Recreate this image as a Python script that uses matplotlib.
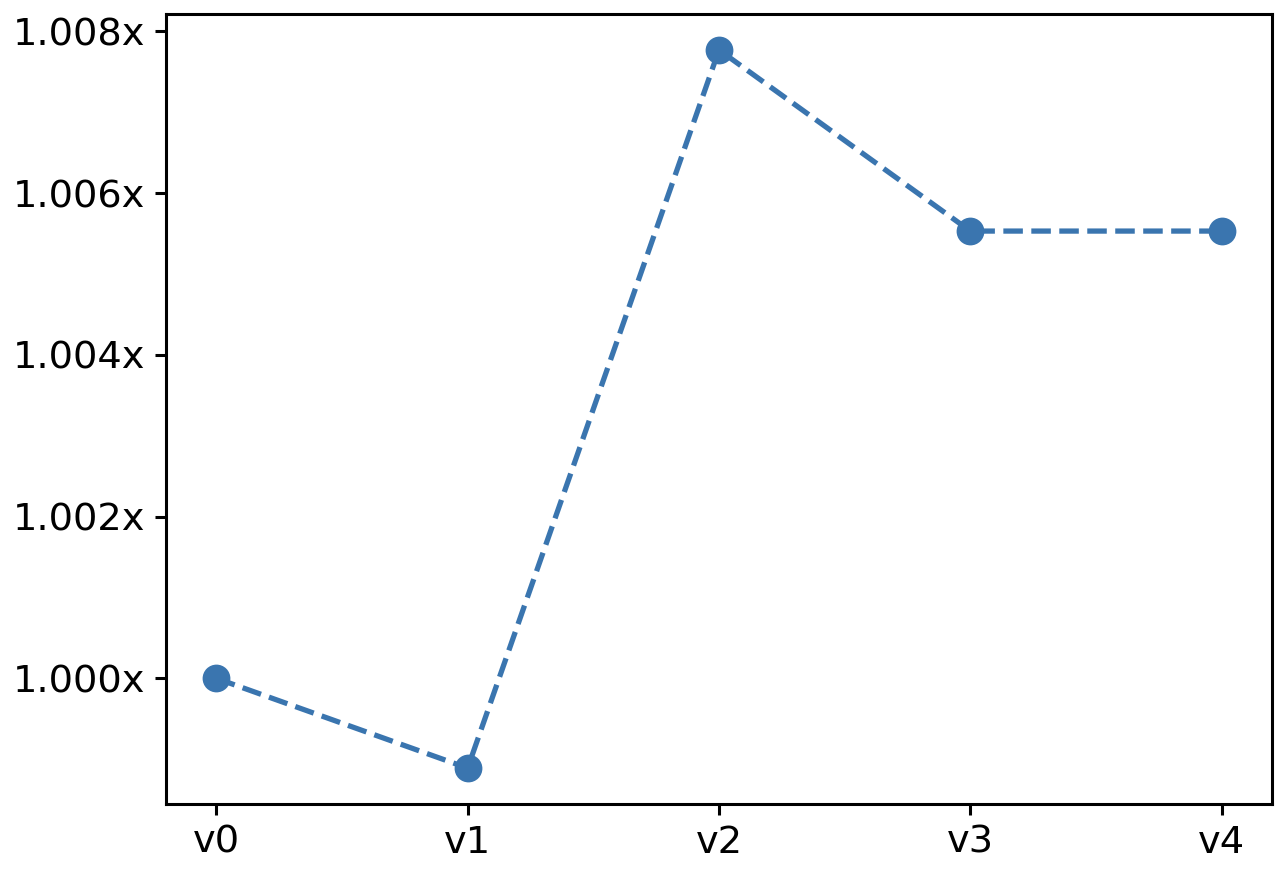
import matplotlib
matplotlib.use("Agg")
import matplotlib.pyplot as plt
from matplotlib.ticker import FuncFormatter, MultipleLocator

versions = ["v0", "v1", "v2", "v3", "v4"]
speedup = [1.0, 0.99889, 1.00777, 1.00553, 1.00553]

plt.rcParams['font.size'] = 13.8

fig = plt.figure(figsize=(6.4, 4.41), dpi=200)
ax = fig.add_axes([166/1280, 1 - 804/882, (1272-166)/1280, (804-14)/882])

ax.plot(range(len(versions)), speedup, linestyle='--', marker='o', color='#3a75af',
        linewidth=1.9, markersize=9)
ax.set_xticks(range(len(versions)))
ax.set_xticklabels(versions)
ax.yaxis.set_major_locator(MultipleLocator(0.002))
ax.yaxis.set_major_formatter(FuncFormatter(lambda v, p: "{:.3f}x".format(v)))
for s in ax.spines.values():
  s.set_linewidth(1.1)
ax.tick_params(width=1.1, length=4)

fig.savefig("out.png", dpi=200)
